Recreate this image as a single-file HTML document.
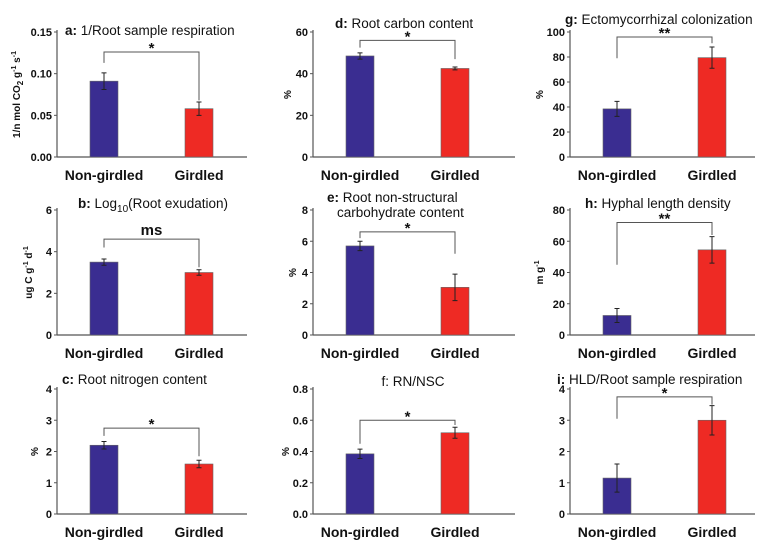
<!DOCTYPE html>
<html><head><meta charset="utf-8">
<style>
html,body{margin:0;padding:0;background:#fff;}
svg{display:block;font-family:"Liberation Sans",Arial,sans-serif;}
.tk{font-size:11px;font-weight:bold;fill:#111;}
.cat{font-size:14px;font-weight:bold;fill:#111;}
.ttl{font-size:13.5px;fill:#111;}
.yt{font-size:10px;font-weight:bold;fill:#111;}
.sig{font-size:15px;font-weight:bold;fill:#111;}
</style></head>
<body>
<svg id="chart" width="773" height="548" viewBox="0 0 773 548" xmlns="http://www.w3.org/2000/svg"></svg>
<script>
const categories = ["Non-girdled","Girdled"];
const panelIds = ["a","b","c","d","e","f","g","h","i"];
const valuesA = [0.091,0.058]; const errA = [0.010,0.008];
const valuesB = [3.5,3.0];     const errB = [0.15,0.13];
const valuesC = [2.2,1.6];     const errC = [0.12,0.12];
const valuesD = [48.5,42.5];   const errD = [1.5,0.7];
const valuesE = [5.7,3.05];    const errE = [0.3,0.85];
const valuesF = [0.385,0.52];  const errF = [0.03,0.035];
const valuesG = [38.5,79.5];   const errG = [6,8.5];
const valuesH = [12.5,54.5];   const errH = [4.5,8.5];
const valuesI = [1.15,3.0];    const errI = [0.45,0.47];
const ticksA = [0,0.05,0.10,0.15]; const tickLabelsA = ["0.00","0.05","0.10","0.15"];
const ticksB = [0,2,4,6];
const ticksC = [0,1,2,3,4];
const ticksD = [0,20,40,60];
const ticksE = [0,2,4,6,8];
const ticksF = [0,0.2,0.4,0.6,0.8]; const tickLabelsF = ["0.0","0.2","0.4","0.6","0.8"];
const ticksG = [0,20,40,60,80,100];
const ticksH = [0,20,40,60,80];
const ticksI = [0,1,2,3,4];
const sigLabels = ["*","ms","*","*","*","*","**","**","*"];
const bracketLevels = [0.126,4.6,2.75,56,6.6,0.6,96,72,3.75];
const bracketLegEnds = [[0.113,0.068],[4.2,3.25],[2.5,1.85],[52.5,47],[6.2,5.2],[0.45,0.57],[79,91],[45,64],[3.05,3.5]];

const NS="http://www.w3.org/2000/svg";
const svg=document.getElementById('chart');
function mk(tag,attrs,parent){const e=document.createElementNS(NS,tag);for(const k in attrs)e.setAttribute(k,attrs[k]);(parent||svg).appendChild(e);return e;}

const colX=[57,313,570], colEnd=[247,515,755];
const rowZero=[157,335,514], rowTop=[32,210,389];
const barOff=[33,128], barW=28;
const colors=["#3a2d91","#ee2a24"];

const panels=[
 {v:valuesA,e:errA,t:ticksA,tl:tickLabelsA,yt:'1/n mol CO<tspan dy="3" font-size="8">2</tspan><tspan dy="-3"> g</tspan><tspan dy="-4" font-size="7">-1</tspan><tspan dy="4"> s</tspan><tspan dy="-4" font-size="7">-1</tspan>',ytx:20,
  title:'<tspan font-weight="bold">a:</tspan> 1/Root sample respiration',tx:65,ty:35,anchor:'start'},
 {v:valuesB,e:errB,t:ticksB,tl:null,yt:'ug C g<tspan dy="-4" font-size="7">-1</tspan><tspan dy="4"> d</tspan><tspan dy="-4" font-size="7">-1</tspan>',ytx:32,
  title:'<tspan font-weight="bold">b:</tspan> Log<tspan dy="4" font-size="10">10</tspan><tspan dy="-4">(Root exudation)</tspan>',tx:153,ty:208,anchor:'middle'},
 {v:valuesC,e:errC,t:ticksC,tl:null,yt:'%',ytx:38,
  title:'<tspan font-weight="bold">c:</tspan> Root nitrogen content',tx:62,ty:384,anchor:'start'},
 {v:valuesD,e:errD,t:ticksD,tl:null,yt:'%',ytx:291,
  title:'<tspan font-weight="bold">d:</tspan> Root carbon content',tx:335,ty:28,anchor:'start'},
 {v:valuesE,e:errE,t:ticksE,tl:null,yt:'%',ytx:296,
  title:'<tspan font-weight="bold">e:</tspan> Root non-structural',tx:327,ty:202,anchor:'start',title2:'carbohydrate content',t2x:337,t2y:217},
 {v:valuesF,e:errF,t:ticksF,tl:tickLabelsF,yt:'%',ytx:289,
  title:'f: RN/NSC',tx:413,ty:386,anchor:'middle'},
 {v:valuesG,e:errG,t:ticksG,tl:null,yt:'%',ytx:543,
  title:'<tspan font-weight="bold">g:</tspan> Ectomycorrhizal colonization',tx:565,ty:24,anchor:'start'},
 {v:valuesH,e:errH,t:ticksH,tl:null,yt:'m g<tspan dy="-4" font-size="7">-1</tspan>',ytx:543,
  title:'<tspan font-weight="bold">h:</tspan> Hyphal length density',tx:585,ty:208,anchor:'start'},
 {v:valuesI,e:errI,t:ticksI,tl:null,yt:'',ytx:543,
  title:'<tspan font-weight="bold">i:</tspan> HLD/Root sample respiration',tx:557,ty:384,anchor:'start'}
];

panels.forEach((p,idx)=>{
  const col=idx<3?0:idx<6?1:2, row=idx%3;
  const g=mk('g',{});
  
  
  const ax=colX[col], y0=rowZero[row], yTop=rowTop[row];
  const maxV=p.t[p.t.length-1];
  const y=v=>y0-(v/maxV)*(y0-yTop);
  const x=i=>ax+barOff[i];
  const ya=mk('line',{x1:ax,y1:yTop-2,x2:ax,y2:y0,stroke:'#555','stroke-width':1.2},g);
  
  
  const xa=mk('line',{x1:ax,y1:y0,x2:colEnd[col],y2:y0,stroke:'#555','stroke-width':1.2},g);
  
  
  p.t.forEach((tv,ti)=>{
    mk('line',{x1:ax-3,y1:y(tv),x2:ax,y2:y(tv),stroke:'#555','stroke-width':1},g);
    const tl=mk('text',{x:ax-5,y:y(tv)+4,'text-anchor':'end',class:'tk'},g);
    tl.textContent=p.tl?p.tl[ti]:String(tv);
    
    
  });
  p.v.forEach((val,i)=>{
    const b=mk('rect',{x:x(i),y:y(val),width:barW,height:y0-y(val),fill:colors[i],stroke:'#666','stroke-width':0.6},g);
    
    
    const cx=x(i)+barW/2;
    const eb=mk('path',{d:`M${cx},${y(val+p.e[i])}V${y(val-p.e[i])}M${cx-2.5},${y(val+p.e[i])}H${cx+2.5}M${cx-2.5},${y(val-p.e[i])}H${cx+2.5}`,stroke:'#222','stroke-width':1,fill:'none'},g);
    
    
    const cl=mk('text',{x:cx,y:y0+23,'text-anchor':'middle',class:'cat'},g);
    cl.textContent=categories[i];
    
    
  });
  const c0=x(0)+barW/2,c1=x(1)+barW/2,by=y(bracketLevels[idx]);
  const br=mk('path',{d:`M${c0},${y(bracketLegEnds[idx][0])}V${by}H${c1}V${y(bracketLegEnds[idx][1])}`,stroke:'#555','stroke-width':1,fill:'none'},g);
  
  
  const sg=mk('text',{x:(c0+c1)/2,y:by-(sigLabels[idx]==='ms'?4:-1),'text-anchor':'middle',class:'sig'},g);
  sg.textContent=sigLabels[idx];
  
  
  const tt=mk('text',{x:p.tx,y:p.ty,'text-anchor':p.anchor,class:'ttl'},g);
  tt.innerHTML=p.title;
  
  
  if(p.title2){
    const t2=mk('text',{x:p.t2x,y:p.t2y,class:'ttl'},g);
    t2.textContent=p.title2;
    
    
  }
  if(p.yt){
    const cy=(y0+yTop)/2;
    const yt=mk('text',{x:p.ytx,y:cy,'text-anchor':'middle',class:'yt',transform:`rotate(-90 ${p.ytx} ${cy})`},g);
    yt.innerHTML=p.yt;
    
    
  }
});
</script>
</body></html>
